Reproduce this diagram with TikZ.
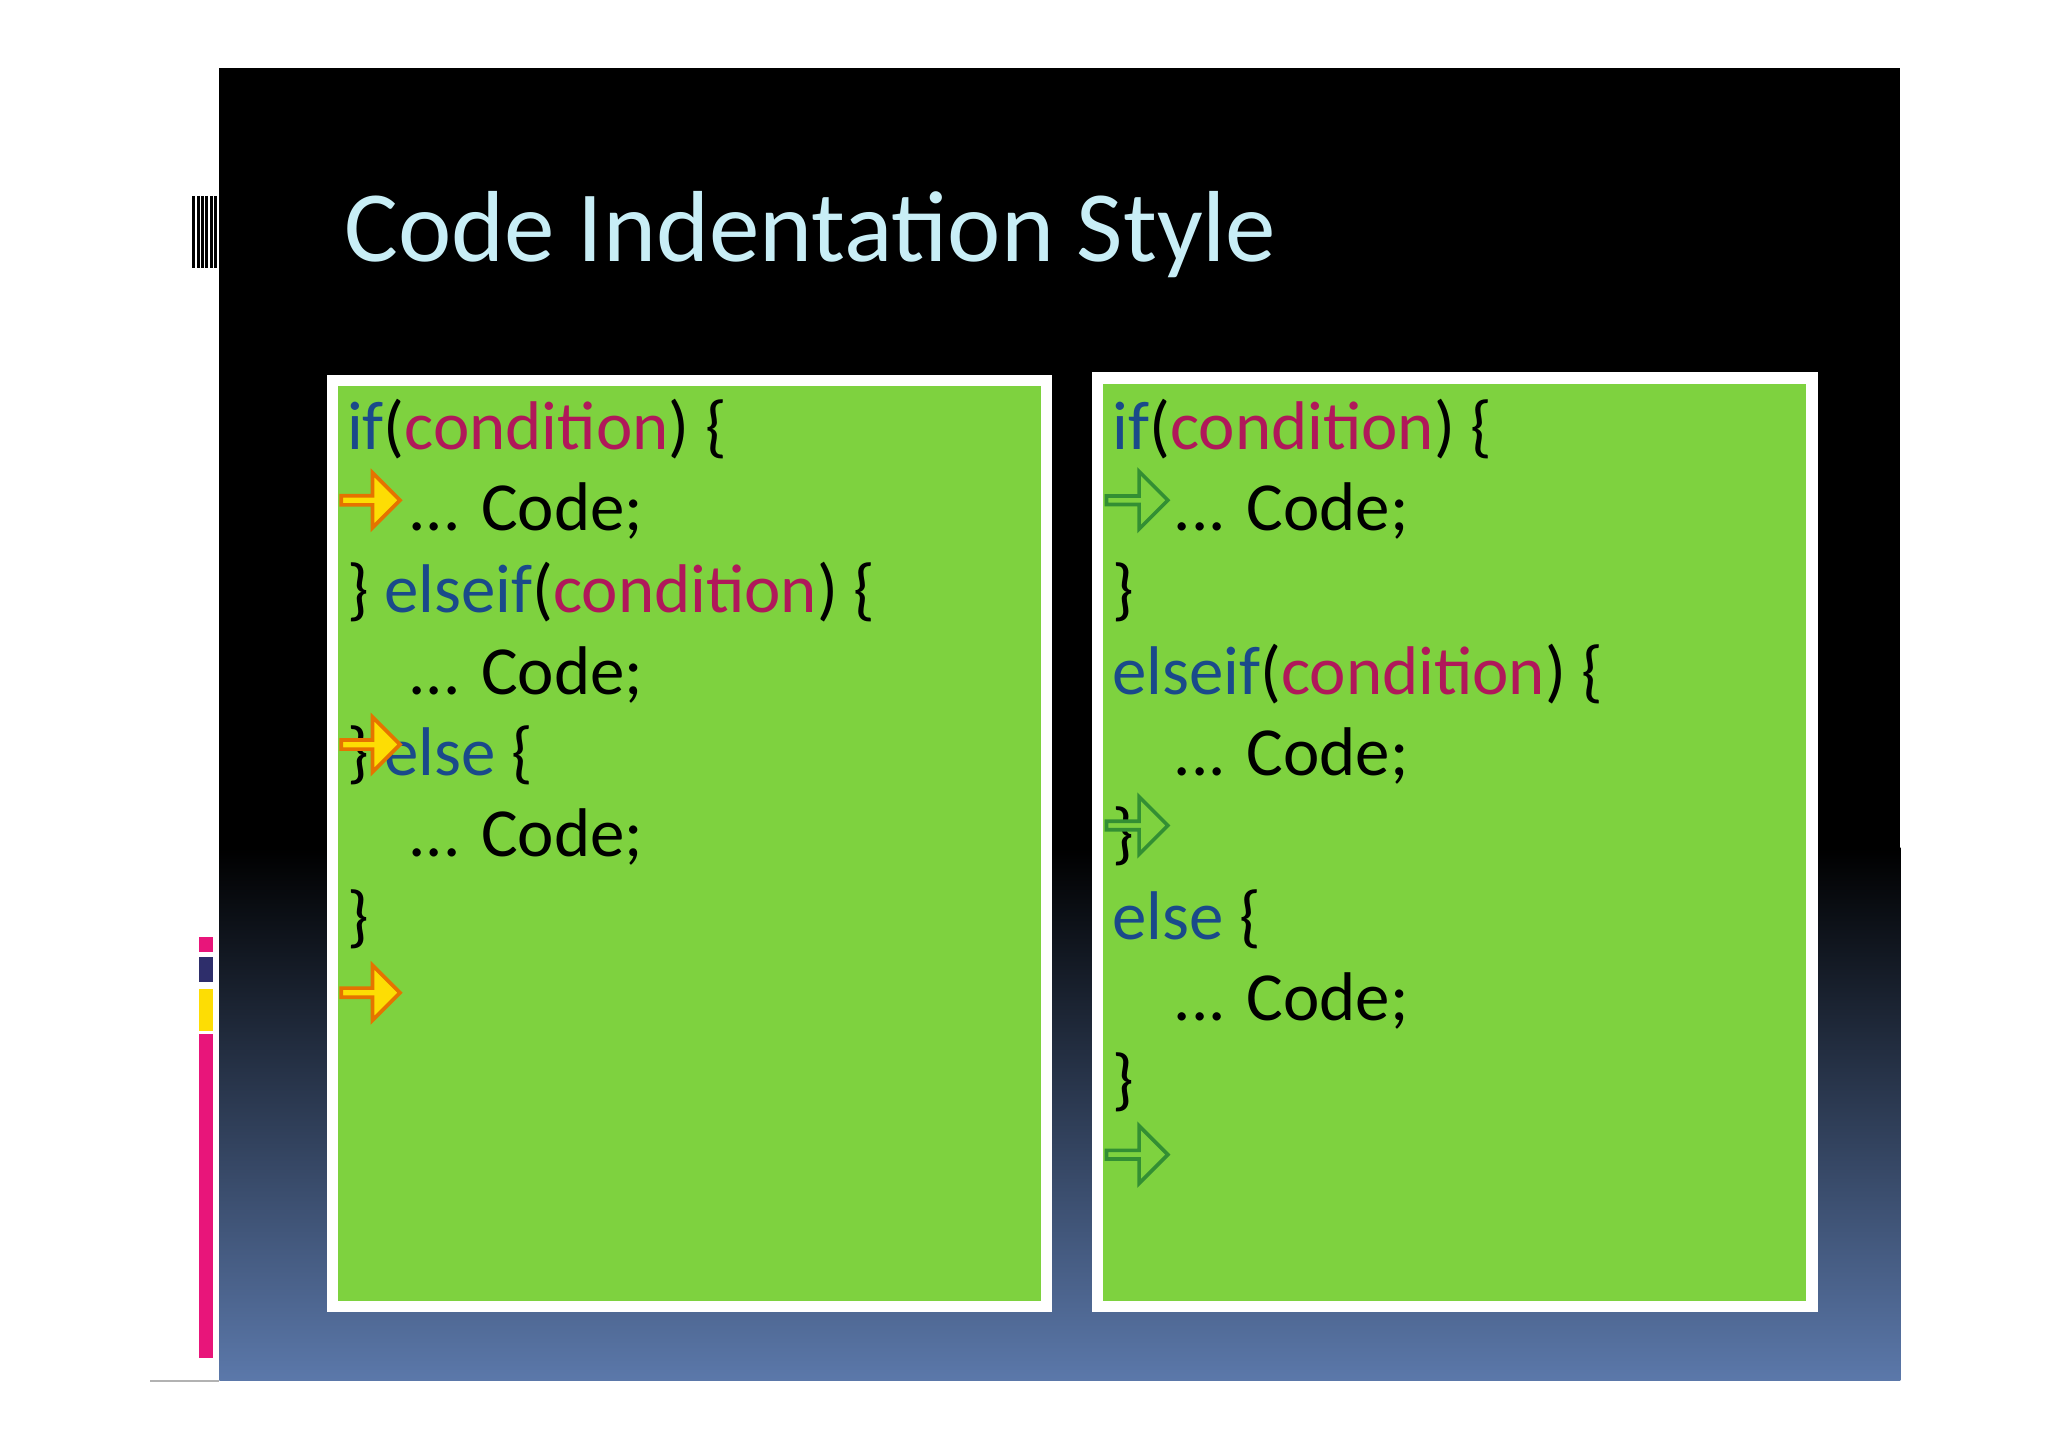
\documentclass[tikz,border=0pt]{standalone}
\usepackage{fontspec}
\setmainfont{Carlito}
\usetikzlibrary{shapes.arrows}
\definecolor{slidegreen}{HTML}{7ED23F}
\definecolor{kwblue}{HTML}{1A4A8A}
\definecolor{condred}{HTML}{B0185A}
\definecolor{titlecyan}{HTML}{C8EEF6}
\definecolor{slideblue}{HTML}{5B78AA}
\definecolor{barpink}{HTML}{E8157A}
\newcommand{\kw}[1]{\textcolor{kwblue}{#1}}
\newcommand{\cnd}[1]{\textcolor{condred}{#1}}
\begin{document}
\begin{tikzpicture}[y=-1cm]
\tikzset{code/.style = {anchor=base west, inner sep=0pt, font=\fontsize{15}{18}\selectfont}}
\tikzset{panel/.style = {draw=white, line width=2.5pt, fill=slidegreen}}
\tikzset{hotarrow/.style = {single arrow, draw=orange!90!black, fill=yellow!80!orange, thick, minimum width=0.42cm, minimum height=0.45cm, single arrow head extend=0.07cm, inner sep=0pt}}
\tikzset{coolarrow/.style = {single arrow, draw=green!45!black!80, fill=slidegreen, thick, minimum width=0.44cm, minimum height=0.47cm, single arrow head extend=0.08cm, inner sep=0pt}}
\useasboundingbox[fill=white] (0,0) rectangle (15.68,11.08);
% slide background
\fill[black] (1.68,0.52) rectangle (14.55,6.5);
\shade[top color=black, bottom color=slideblue] (1.68,6.49) rectangle (14.55,10.57);
\draw[gray!60] (1.15,10.57) -- (1.68,10.57);
% left decorations
\foreach \x in {1.48,1.52,1.55,1.58,1.62,1.65}
  \draw[black, line width=0.6pt] (\x,1.5) -- (\x,2.05);
\fill[barpink] (1.52,7.17) rectangle (1.63,7.29);
\fill[gray!60!blue!60!black] (1.52,7.33) rectangle (1.63,7.52);
\fill[yellow!80!orange] (1.52,7.57) rectangle (1.63,7.89);
\fill[barpink] (1.52,7.92) rectangle (1.63,10.40);
% title
\node[anchor=base west, inner sep=0pt, text=titlecyan, font=\fontsize{22}{26}\selectfont] (title) at (2.63,2.0) {Code Indentation Style};
% panels
\node[panel, minimum width=5.47cm, minimum height=7.09cm, anchor=north west] (left) at (2.50,2.87) {};
\node[panel, minimum width=5.47cm, minimum height=7.11cm, anchor=north west] (right) at (8.36,2.85) {};
% left code
\node[code] (l1) at (2.65,3.44) {\kw{if}(\cnd{condition}) \{};
\node[code] (l2) at (3.12,4.06) {... Code;};
\node[code] (l3) at (2.65,4.69) {\} \kw{elseif}(\cnd{condition}) \{};
\node[code] (l4) at (3.12,5.32) {... Code;};
\node[code] (l5) at (2.65,5.94) {\} \kw{else} \{};
\node[code] (l6) at (3.12,6.56) {... Code;};
\node[code] (l7) at (2.65,7.19) {\}};
\node[hotarrow] (la1) at (2.82,3.83) {};
\node[hotarrow] (la2) at (2.82,5.70) {};
\node[hotarrow] (la3) at (2.82,7.60) {};
% right code
\node[code] (r1) at (8.51,3.44) {\kw{if}(\cnd{condition}) \{};
\node[code] (r2) at (8.98,4.06) {... Code;};
\node[code] (r3) at (8.51,4.69) {\}};
\node[code] (r4) at (8.51,5.32) {\kw{elseif}(\cnd{condition}) \{};
\node[code] (r5) at (8.98,5.94) {... Code;};
\node[code] (r6) at (8.51,6.56) {\}};
\node[code] (r7) at (8.51,7.19) {\kw{else} \{};
\node[code] (r8) at (8.98,7.81) {... Code;};
\node[code] (r9) at (8.51,8.44) {\}};
\node[coolarrow] (ra1) at (8.69,3.83) {};
\node[coolarrow] (ra2) at (8.69,6.32) {};
\node[coolarrow] (ra3) at (8.69,8.84) {};
\end{tikzpicture}
\end{document}
